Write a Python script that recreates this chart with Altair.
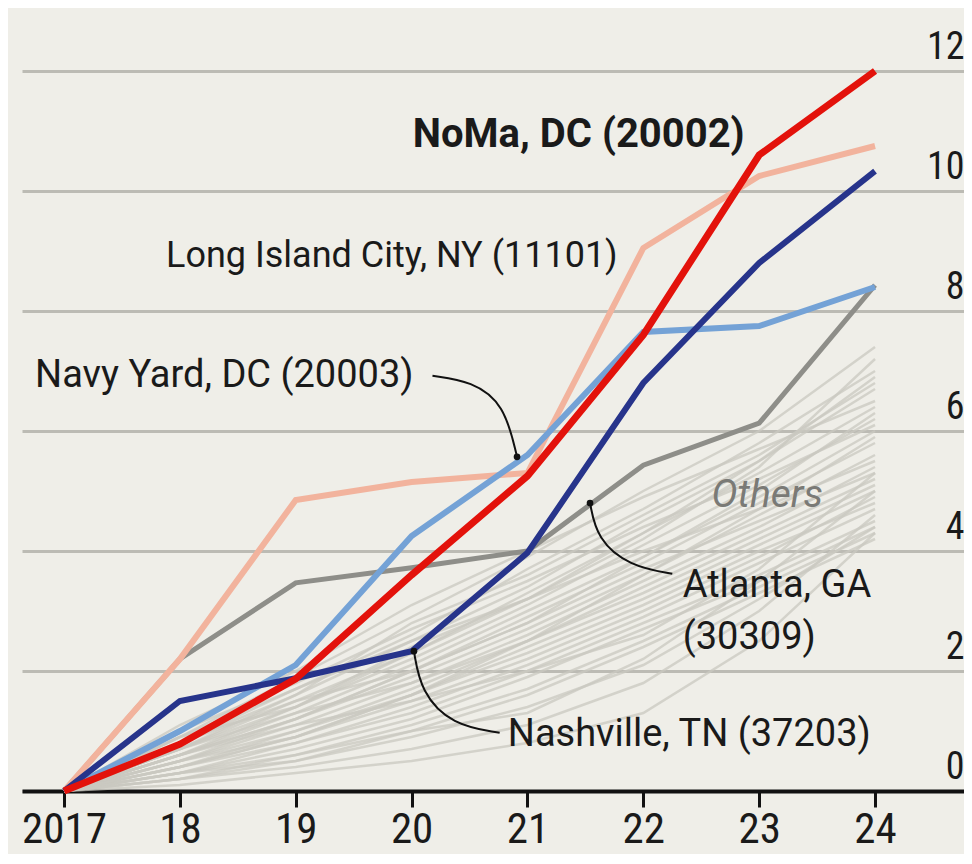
import altair as alt
import pandas as pd

years = [2017, 2018, 2019, 2020, 2021, 2022, 2023, 2024]

# Highlighted series
noma = [0, 0.78, 1.87, 3.6, 5.25, 7.6, 10.6, 12.0]
long_island = [0, 2.2, 4.85, 5.15, 5.3, 9.05, 10.25, 10.75]
navy_yard = [0, 1.0, 2.1, 4.25, 5.6, 7.65, 7.75, 8.4]
nashville = [0, 1.5, 1.88, 2.33, 3.97, 6.8, 8.8, 10.33]
atlanta = [0, 2.2, 3.47, 3.72, 4.0, 5.43, 6.13, 8.43]

# "Others" bundle
others = [
    [0, 0.9, 1.9, 2.9, 3.9, 5.0, 6.0, 7.4],
    [0, 0.8, 1.7, 2.6, 3.7, 4.7, 5.8, 7.0],
    [0, 0.7, 1.6, 2.5, 3.4, 4.5, 5.5, 6.7],
    [0, 0.8, 1.5, 2.3, 3.3, 4.3, 5.3, 6.4],
    [0, 0.6, 1.4, 2.2, 3.1, 4.1, 5.1, 6.2],
    [0, 0.7, 1.3, 2.1, 3.0, 3.9, 4.9, 6.0],
    [0, 0.5, 1.2, 2.0, 2.9, 3.8, 4.8, 5.8],
    [0, 0.6, 1.2, 1.9, 2.7, 3.6, 4.6, 5.6],
    [0, 0.5, 1.1, 1.8, 2.6, 3.5, 4.4, 5.4],
    [0, 0.4, 1.0, 1.7, 2.5, 3.4, 4.3, 5.2],
    [0, 0.5, 1.0, 1.6, 2.4, 3.2, 4.1, 5.0],
    [0, 0.4, 0.9, 1.5, 2.2, 3.0, 3.9, 4.9],
    [0, 0.3, 0.8, 1.4, 2.1, 2.9, 3.8, 4.7],
    [0, 0.4, 0.8, 1.3, 2.0, 2.8, 3.6, 4.5],
    [0, 0.3, 0.7, 1.2, 1.9, 2.7, 3.5, 4.4],
    [0, 0.3, 0.6, 1.1, 1.7, 2.5, 3.4, 4.3],
    [0, 0.2, 0.6, 1.0, 1.6, 2.4, 3.3, 4.2],
    [0, 1.0, 1.8, 2.7, 3.5, 4.4, 5.2, 6.1],
    [0, 0.9, 1.4, 2.4, 3.2, 4.0, 4.7, 5.5],
    [0, 0.7, 1.5, 2.0, 2.8, 3.7, 4.5, 5.3],
    [0, 0.6, 1.3, 1.8, 2.5, 3.3, 4.2, 5.1],
    [0, 0.5, 0.9, 1.6, 2.3, 3.1, 4.0, 4.8],
    [0, 1.1, 2.0, 3.1, 4.0, 4.9, 5.7, 6.5],
    [0, 0.8, 1.6, 2.8, 3.6, 4.6, 5.6, 6.8],
    [0, 0.1, 0.3, 0.5, 0.8, 1.3, 2.5, 4.3],
    [0, 0.2, 0.4, 0.7, 1.1, 1.8, 3.0, 4.6],
    [0, 0.2, 0.5, 0.9, 1.4, 2.1, 3.2, 4.4],
    [0, 0.3, 0.5, 1.0, 1.3, 2.2, 3.5, 5.0],
    [0, 0.6, 1.1, 1.5, 2.0, 2.6, 3.7, 5.3],
    [0, 0.9, 1.7, 2.5, 3.2, 4.2, 5.4, 7.2],
    [0, 0.7, 1.4, 2.3, 3.2, 4.3, 5.5, 6.9],
    [0, 0.6, 1.2, 2.0, 2.8, 3.9, 5.0, 6.3],
    [0, 0.4, 0.9, 1.6, 2.5, 3.6, 4.7, 5.9],
]

y_ticks = [0, 2, 4, 6, 8, 10, 12]

FONT = "Roboto, Liberation Sans, sans-serif"
FONT_NARROW = "Roboto Condensed, Liberation Sans Narrow, Roboto, sans-serif"
BG = "#efeee8"
TEXT = "#1a1a1a"

others_rows = []
for i, s in enumerate(others):
    for yr, v in zip(years, s):
        others_rows.append({"year": yr, "value": v, "series": f"o{i}"})
others_df = pd.DataFrame(others_rows)

xscale = alt.Scale(domain=[2016.637, 2024.768], nice=False, zero=False)
yscale = alt.Scale(domain=[0, 13], nice=False)

x_axis = alt.Axis(
    values=years, format="d", title=None, grid=False,
    labelExpr="datum.value == 2017 ? datum.label : slice(datum.label, -2)",
    labelFont=FONT_NARROW, labelFontSize=43, labelColor=TEXT, labelPadding=1,
    labelFlush=False, labelOverlap=False,
    domainColor="#111111", domainWidth=4, tickColor="#111111", tickWidth=3, tickSize=16,
)
y_axis = alt.Axis(
    orient="right", values=y_ticks, title=None, domain=False, ticks=False,
    grid=True, gridColor="#bcbbb4", gridWidth=3,
    labelFont=FONT_NARROW, labelFontSize=38, labelColor=TEXT, labelAlign="right",
    labelBaseline="alphabetic", labelOffset=-13, labelPadding=0,
    labelFlush=False, labelOverlap=False,
)

X = alt.X("year:Q", scale=xscale, axis=x_axis)
Y = alt.Y("value:Q", scale=yscale, axis=y_axis)

base_others = alt.Chart(others_df).mark_line(
    color="#c9c8c0", strokeWidth=2.5, opacity=0.75
).encode(x=X, y=Y, detail="series:N")

layers = [base_others]

highlights = [
    ("Atlanta", atlanta, "#8e8e89", 5),
    ("Long Island City", long_island, "#f2b39d", 6),
    ("Navy Yard", navy_yard, "#74a2d6", 6),
    ("Nashville", nashville, "#27348b", 6),
    ("NoMa", noma, "#e3120b", 7),
]
for name, vals, color, w in highlights:
    df = pd.DataFrame({"year": years, "value": vals, "series": name})
    layers.append(
        alt.Chart(df).mark_line(color=color, strokeWidth=w, strokeJoin="miter")
        .encode(x=X, y=Y)
    )

# Annotation connectors (in data coordinates)
connectors = pd.DataFrame([
    {"c": "navy", "o": 0, "year": 2020.18, "value": 6.92},
    {"c": "navy", "o": 1, "year": 2020.52, "value": 6.83},
    {"c": "navy", "o": 2, "year": 2020.80, "value": 6.45},
    {"c": "navy", "o": 3, "year": 2020.91, "value": 5.57},
    {"c": "atl", "o": 0, "year": 2021.54, "value": 4.8},
    {"c": "atl", "o": 1, "year": 2021.60, "value": 4.2},
    {"c": "atl", "o": 2, "year": 2021.88, "value": 3.75},
    {"c": "atl", "o": 3, "year": 2022.25, "value": 3.62},
    {"c": "nash", "o": 0, "year": 2020.02, "value": 2.33},
    {"c": "nash", "o": 1, "year": 2020.08, "value": 1.65},
    {"c": "nash", "o": 2, "year": 2020.35, "value": 1.1},
    {"c": "nash", "o": 3, "year": 2020.76, "value": 0.97},
])
layers.append(
    alt.Chart(connectors).mark_line(color="#111111", strokeWidth=2, interpolate="basis")
    .encode(x=X, y=Y, detail="c:N", order="o:Q")
)
dots = pd.DataFrame([
    {"year": 2020.91, "value": 5.57},
    {"year": 2021.54, "value": 4.8},
    {"year": 2020.02, "value": 2.33},
])
layers.append(
    alt.Chart(dots).mark_circle(color="#111111", size=45, opacity=1)
    .encode(x=X, y=Y)
)

labels = pd.DataFrame([
    {"year": 2016.75, "value": 6.92, "text": "Navy Yard, DC (20003)"},
    {"year": 2022.34, "value": 3.42, "text": "Atlanta, GA"},
    {"year": 2022.34, "value": 2.55, "text": "(30309)"},
    {"year": 2020.83, "value": 0.93, "text": "Nashville, TN (37203)"},
])
layers.append(
    alt.Chart(labels).mark_text(
        font=FONT, fontSize=38, color=TEXT, align="left", baseline="middle"
    ).encode(x=X, y=Y, text="text:N")
)
lic_label = pd.DataFrame([{"year": 2017.88, "value": 8.92, "text": "Long Island City, NY (11101)"}])
layers.append(
    alt.Chart(lic_label).mark_text(
        font=FONT, fontSize=36, color=TEXT, align="left", baseline="middle"
    ).encode(x=X, y=Y, text="text:N")
)
bold_label = pd.DataFrame([{"year": 2020.01, "value": 10.93, "text": "NoMa, DC (20002)"}])
layers.append(
    alt.Chart(bold_label).mark_text(
        font=FONT, fontSize=40, fontWeight="bold", color=TEXT, align="left", baseline="middle"
    ).encode(x=X, y=Y, text="text:N")
)

others_label = pd.DataFrame([{"year": 2023.07, "value": 4.93, "text": "Others"}])
layers.append(
    alt.Chart(others_label).mark_text(
        font=FONT, fontSize=39, fontStyle="italic", color="#7a7a76",
        align="center", baseline="middle"
    ).encode(x=X, y=Y, text="text:N")
)

chart = alt.layer(*layers).properties(
    width=942, height=780,
    autosize=alt.AutoSizeParams(type="none"),
    padding={"left": 14, "top": 3, "right": 0, "bottom": 63},
    background=BG,
).configure_view(stroke=None)

chart.save("out.html", embed_options={"renderer": "svg", "actions": False})
